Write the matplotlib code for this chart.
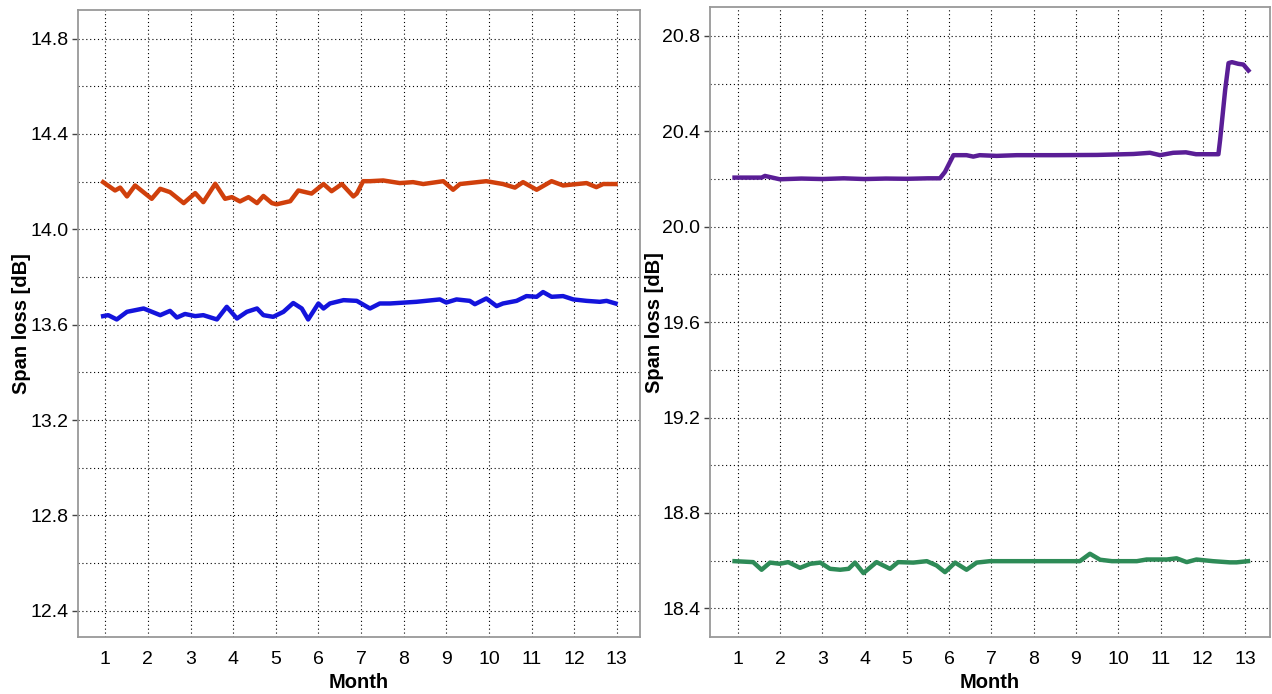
import matplotlib
matplotlib.use("Agg")
import matplotlib.pyplot as plt
from matplotlib.ticker import MultipleLocator, FixedLocator

plt.rcParams["font.family"] = ["Liberation Sans", "DejaVu Sans"]

# span A (left panel), two fibres
a_hi_x = [0.95, 1.23, 1.35, 1.51, 1.70, 2.09, 2.29, 2.52, 2.84, 3.11, 3.30, 3.58, 3.81, 3.97,
          4.16, 4.36, 4.56, 4.71, 4.91, 5.02, 5.34, 5.53, 5.84, 6.12, 6.31, 6.55, 6.82, 6.90,
          7.05, 7.21, 7.52, 7.91, 8.22, 8.46, 8.93, 9.16, 9.32, 9.94, 10.33, 10.61, 10.80,
          11.12, 11.47, 11.74, 12.29, 12.52, 12.68, 12.97]
a_hi_y = [14.198, 14.163, 14.175, 14.138, 14.184, 14.128, 14.170, 14.156, 14.110, 14.152,
          14.114, 14.191, 14.128, 14.135, 14.117, 14.135, 14.110, 14.140, 14.110, 14.105,
          14.118, 14.163, 14.150, 14.190, 14.160, 14.190, 14.138, 14.150, 14.202, 14.202,
          14.205, 14.194, 14.198, 14.190, 14.202, 14.166, 14.190, 14.202, 14.190, 14.175,
          14.198, 14.166, 14.202, 14.184, 14.194, 14.177, 14.190, 14.190]

a_lo_x = [0.95, 1.07, 1.27, 1.51, 1.90, 2.29, 2.52, 2.68, 2.87, 3.11, 3.30, 3.62, 3.85, 4.09,
          4.32, 4.56, 4.71, 4.94, 5.18, 5.41, 5.61, 5.76, 6.00, 6.12, 6.27, 6.59, 6.90, 7.21,
          7.44, 7.68, 8.30, 8.85, 9.00, 9.24, 9.55, 9.67, 9.94, 10.18, 10.33, 10.65, 10.88,
          11.12, 11.27, 11.47, 11.74, 11.98, 12.29, 12.60, 12.76, 12.97]
a_lo_y = [13.636, 13.640, 13.622, 13.654, 13.668, 13.640, 13.658, 13.630, 13.645, 13.636,
          13.640, 13.622, 13.675, 13.626, 13.654, 13.668, 13.640, 13.633, 13.654, 13.691,
          13.668, 13.622, 13.689, 13.668, 13.689, 13.703, 13.700, 13.668, 13.689, 13.689,
          13.696, 13.706, 13.693, 13.706, 13.700, 13.686, 13.710, 13.678, 13.689, 13.700,
          13.720, 13.717, 13.737, 13.717, 13.720, 13.706, 13.700, 13.696, 13.700, 13.689]

# span B (right panel), two fibres
b_hi_x = [0.92, 1.56, 1.64, 1.99, 2.50, 3.00, 3.50, 4.00, 4.50, 5.00, 5.50, 5.78, 5.90,
          6.10, 6.41, 6.57, 6.72, 7.12, 7.60, 8.50, 9.50, 10.36, 10.75, 10.99, 11.30, 11.60,
          11.84, 12.37, 12.41, 12.53, 12.61, 12.69, 12.84, 12.96, 13.08]
b_hi_y = [20.206, 20.206, 20.213, 20.199, 20.202, 20.200, 20.203, 20.200, 20.202, 20.201,
          20.203, 20.203, 20.230, 20.300, 20.300, 20.294, 20.300, 20.297, 20.300, 20.300,
          20.301, 20.305, 20.310, 20.300, 20.310, 20.312, 20.304, 20.304, 20.364, 20.574,
          20.686, 20.690, 20.683, 20.680, 20.655]

b_lo_x = [0.92, 1.36, 1.56, 1.76, 1.99, 2.19, 2.47, 2.71, 2.95, 3.18, 3.42, 3.62, 3.77, 3.97,
          4.28, 4.60, 4.79, 5.15, 5.47, 5.70, 5.90, 6.14, 6.41, 6.65, 6.96, 9.09, 9.33, 9.57,
          9.85, 10.44, 10.67, 11.15, 11.38, 11.62, 11.85, 12.24, 12.64, 12.80, 13.07]
b_lo_y = [18.598, 18.594, 18.562, 18.592, 18.587, 18.594, 18.570, 18.587, 18.592, 18.566,
          18.562, 18.566, 18.592, 18.548, 18.594, 18.566, 18.594, 18.592, 18.598, 18.580,
          18.552, 18.592, 18.562, 18.592, 18.598, 18.598, 18.629, 18.604, 18.598, 18.598,
          18.605, 18.605, 18.610, 18.594, 18.605, 18.598, 18.593, 18.593, 18.598]

months = list(range(1, 14))

fig = plt.figure(figsize=(12.72, 6.94), dpi=100)
ax1 = fig.add_axes([0.0613, 0.0821, 0.4417, 0.9035])
ax2 = fig.add_axes([0.5582, 0.0821, 0.4402, 0.9074])

panels = [
    (ax1, [(a_hi_x, a_hi_y, "#D0400C"), (a_lo_x, a_lo_y, "#1414DC")],
     (12.29, 14.92), [12.4, 12.8, 13.2, 13.6, 14.0, 14.4, 14.8], (0.36, 13.54)),
    (ax2, [(b_hi_x, b_hi_y, "#5A1E96"), (b_lo_x, b_lo_y, "#2E8B57")],
     (18.28, 20.92), [18.4, 18.8, 19.2, 19.6, 20.0, 20.4, 20.8], (0.34, 13.59)),
]

for ax, series, ylim, yticks, xlim in panels:
    for xs, ys, col in series:
        ax.plot(xs, ys, color=col, lw=3.2, solid_joinstyle="round", zorder=3)
    ax.set_xlim(*xlim)
    ax.set_ylim(*ylim)

    ax.set_xticks(months)
    ax.set_xticklabels([str(m) for m in months])
    ax.xaxis.set_minor_locator(FixedLocator([2, 4, 6, 8, 10, 12]))
    ax.tick_params(axis="x", which="major", length=0, pad=10, labelsize=14)
    ax.tick_params(axis="x", which="minor", length=4, width=1, color="#444444")

    ax.set_yticks(yticks)
    ax.set_yticklabels(["%.1f" % v for v in yticks])
    ax.yaxis.set_minor_locator(MultipleLocator(0.2))
    ax.tick_params(axis="y", which="major", length=4, width=1, color="#444444",
                   pad=3, labelsize=14)
    ax.tick_params(axis="y", which="minor", length=0)

    ax.grid(True, which="major", axis="x", color="black", linestyle=(0, (1, 2.5)), lw=0.8)
    ax.grid(True, which="both", axis="y", color="black", linestyle=(0, (1, 2.5)), lw=0.8)
    ax.set_axisbelow(True)

    for sp in ax.spines.values():
        sp.set_color("#999999")
        sp.set_linewidth(1.3)

    ax.set_xlabel("Month", fontsize=14.5, fontweight="bold", labelpad=4)
    ax.set_ylabel("Span loss [dB]", fontsize=14.5, fontweight="bold", labelpad=-1)

fig.savefig("out.png", dpi=100)
